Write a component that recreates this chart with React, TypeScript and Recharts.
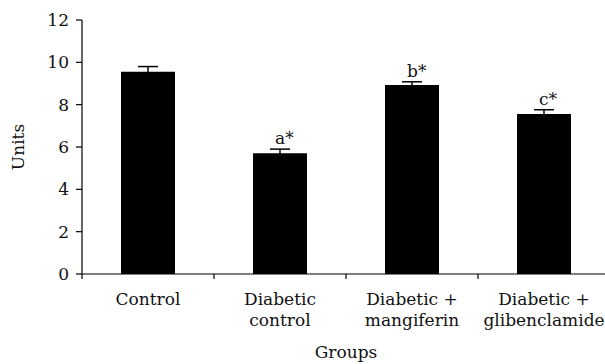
import { ComposedChart, Bar, Line, XAxis, YAxis, ErrorBar, LabelList } from "recharts"

const groups = ["Control", "Diabetic\ncontrol", "Diabetic +\nmangiferin", "Diabetic +\nglibenclamide"]
const means = [9.55, 5.7, 8.93, 7.56]
const errors = [0.25, 0.2, 0.15, 0.2]
const marks = ["", "a*", "b*", "c*"]
const yTicks = [0, 2, 4, 6, 8, 10, 12]

const data = groups.map((g, i) => ({
  group: g,
  value: means[i],
  err: errors[i],
  top: means[i] + errors[i],
  mark: marks[i],
}))

const FONT = "DejaVu Serif"

function GroupTick(props: any) {
  const { x, y, payload, width, visibleTicksCount } = props
  const band = width / visibleTicksCount
  const lines = String(payload.value).split("\n")
  return (
    <g>
      <line x1={x - band / 2} x2={x - band / 2} y1={y - 8} y2={y - 3} stroke="#000" strokeWidth={1.2} />
      {payload.index === visibleTicksCount - 1 && (
        <line x1={x + band / 2} x2={x + band / 2} y1={y - 8} y2={y - 3} stroke="#000" strokeWidth={1.2} />
      )}
      <text x={x} y={y + 23} textAnchor="middle" fontFamily={FONT} fontSize={17} fill="#111">
        {lines.map((l, i) => (
          <tspan key={i} x={x} dy={i === 0 ? 0 : 21}>
            {l}
          </tspan>
        ))}
      </text>
    </g>
  )
}

export default function App() {
  return (
    <div style={{ position: "absolute", left: 0, top: 0 }}>
      <ComposedChart width={610} height={364} data={data} margin={{ top: 20, right: 0, left: 0, bottom: 0 }}>
        <XAxis
          dataKey="group"
          height={90}
          axisLine={{ stroke: "#000", strokeWidth: 1.2 }}
          tickLine={false}
          interval={0}
          tick={<GroupTick />}
          label={{ value: "Groups", position: "insideBottom", offset: 6, fontFamily: FONT, fontSize: 17, fill: "#111" }}
        />
        <YAxis
          domain={[0, 12]}
          ticks={yTicks}
          width={82}
          axisLine={{ stroke: "#000", strokeWidth: 1.2 }}
          tickLine={{ stroke: "#000", strokeWidth: 1.2 }}
          tickSize={6}
          tickMargin={7}
          tick={{ fontFamily: FONT, fontSize: 17, fill: "#111" }}
          label={{ value: "Units", angle: -90, position: "center", dx: -23, fontFamily: FONT, fontSize: 17, fill: "#111" }}
        />
        <Bar dataKey="value" fill="#000" barSize={54} isAnimationActive={false}>
          <ErrorBar dataKey="err" direction="y" width={10} stroke="#000" strokeWidth={1.5} />
        </Bar>
        <Line dataKey="top" stroke="none" dot={false} activeDot={false} isAnimationActive={false}>
          <LabelList
            dataKey="mark"
            content={(p: any) => (
              <text x={p.x - 5} y={p.y - 5} textAnchor="start" fontFamily={FONT} fontSize={17} fill="#111">
                {p.value}
              </text>
            )}
          />
        </Line>
      </ComposedChart>
    </div>
  )
}
